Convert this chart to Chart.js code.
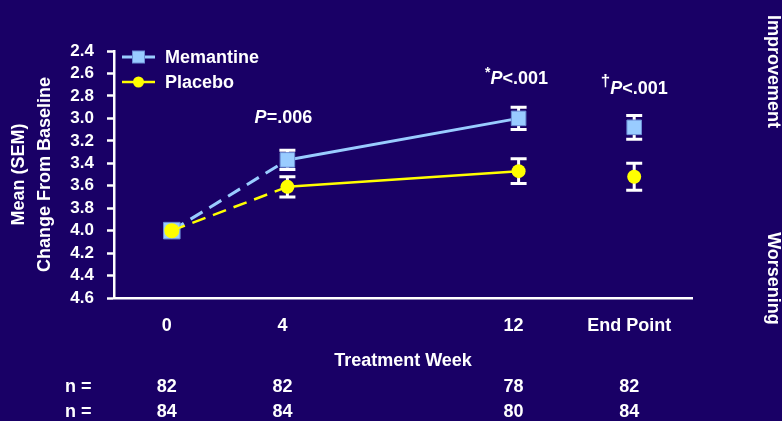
<!DOCTYPE html>
<html>
<head>
<meta charset="utf-8">
<title>Memantine vs Placebo – Mean Change From Baseline</title>
<script src="https://cdn.jsdelivr.net/npm/chart.js@4/dist/chart.umd.min.js"></script>
<style>
  html, body { margin: 0; padding: 0; background: #190066; }
  #wrap { position: relative; width: 782px; height: 421px; }
</style>
</head>
<body>
<div id="wrap"><canvas id="chart" width="782" height="421"></canvas></div>
<script>
// Visits on the treatment-week axis (End Point sits in its own slot after week 12)
const weeks = [0, 4, 12, 16];
const weekLabels = ['0', '4', '12', 'End Point'];

// Mean (SEM) per visit
const memantineMean = [4.0, 3.37, 3.0, 3.08];
const memantineSEM  = [0, 0.085, 0.10, 0.105];
const placeboMean   = [4.0, 3.61, 3.47, 3.52];
const placeboSEM    = [0, 0.09, 0.11, 0.12];

// Patients per visit
const memantineN = [82, 82, 78, 82];
const placeboN   = [84, 84, 80, 84];

// Y axis ticks
const yTicks = [2.4, 2.6, 2.8, 3.0, 3.2, 3.4, 3.6, 3.8, 4.0, 4.2, 4.4, 4.6];

// Between-group P values
const pWeeks = [4, 12, 16];
const pMarks = ['', '*', '\u2020'];
const pTexts = ['=.006', '<.001', '<.001'];

const FONT = "'Liberation Sans', Arial, Helvetica, sans-serif";
const BG = '#190066';
const WHITE = '#ffffff';
const BLUE = '#99ccff';
const YELLOW = '#ffff00';

const toPoints = means => weeks.map((w, i) => ({ x: w, y: means[i] }));

// First segment (baseline to week 4) is dashed; End Point is not joined
const segmentStyle = {
  borderDash: ctx => ctx.p0DataIndex === 0 ? [14, 8] : undefined,
  borderColor: ctx => ctx.p1DataIndex === weeks.length - 1 ? 'rgba(0,0,0,0)' : undefined
};

const background = {
  id: 'background',
  beforeDraw(chart) {
    const { ctx, width, height } = chart;
    ctx.save();
    ctx.fillStyle = BG;
    ctx.fillRect(0, 0, width, height);
    ctx.restore();
  }
};

// SEM whiskers with caps, behind the markers
const errorBars = {
  id: 'errorBars',
  beforeDatasetsDraw(chart) {
    const { ctx, scales: { x, y } } = chart;
    ctx.save();
    ctx.strokeStyle = WHITE;
    ctx.lineWidth = 3;
    chart.data.datasets.forEach(ds => {
      ds.data.forEach((p, i) => {
        const s = ds.sem[i];
        if (!s) return;
        const px = x.getPixelForValue(p.x);
        const top = y.getPixelForValue(p.y - s);
        const bot = y.getPixelForValue(p.y + s);
        const half = 8;
        ctx.beginPath();
        ctx.moveTo(px, top); ctx.lineTo(px, bot);
        ctx.moveTo(px - half, top); ctx.lineTo(px + half, top);
        ctx.moveTo(px - half, bot); ctx.lineTo(px + half, bot);
        ctx.stroke();
      });
    });
    ctx.restore();
  }
};

// Key with line + marker swatches inside the plot area
const seriesKey = {
  id: 'seriesKey',
  afterDraw(chart) {
    const { ctx, chartArea } = chart;
    const order = ['Memantine', 'Placebo'];
    ctx.save();
    order.forEach((name, i) => {
      const ds = chart.data.datasets.find(d => d.label === name);
      const cy = chartArea.top + 6 + i * 25;
      const x0 = chartArea.left + 8, x1 = chartArea.left + 41, cx = (x0 + x1) / 2;
      ctx.strokeStyle = ds.borderColor;
      ctx.lineWidth = ds.borderWidth;
      ctx.setLineDash([]);
      ctx.beginPath(); ctx.moveTo(x0, cy); ctx.lineTo(x1, cy); ctx.stroke();
      ctx.fillStyle = ds.pointBackgroundColor;
      if (ds.pointStyle === 'rect') {
        ctx.fillRect(cx - 6, cy - 6, 12, 12);
        ctx.strokeStyle = ds.pointBorderColor;
        ctx.lineWidth = 1;
        ctx.strokeRect(cx - 6, cy - 6, 12, 12);
      } else {
        ctx.beginPath(); ctx.arc(cx, cy, 5.5, 0, Math.PI * 2); ctx.fill();
      }
      ctx.fillStyle = WHITE;
      ctx.font = `bold 18px ${FONT}`;
      ctx.textAlign = 'left';
      ctx.textBaseline = 'middle';
      ctx.fillText(name, chartArea.left + 51, cy + 1);
    });
    ctx.restore();
  }
};

// P-value notes above each comparison
const pNotes = {
  id: 'pNotes',
  afterDraw(chart, args, opts) {
    const { ctx, scales: { x, y } } = chart;
    ctx.save();
    ctx.fillStyle = WHITE;
    ctx.textBaseline = 'alphabetic';
    ctx.textAlign = 'left';
    pWeeks.forEach((w, i) => {
      const base = y.getPixelForValue(opts.levels[i]);
      const markFont = pMarks[i] === '*' ? `bold 14px ${FONT}` : `bold 17px ${FONT}`;
      const markRise = pMarks[i] === '*' ? 6.3 : 8;
      ctx.font = markFont;
      const mw = pMarks[i] ? ctx.measureText(pMarks[i]).width : 0;
      ctx.font = `italic bold 18px ${FONT}`;
      const pw = ctx.measureText('P').width;
      ctx.font = `bold 18px ${FONT}`;
      const tw = ctx.measureText(pTexts[i]).width;
      let left = x.getPixelForValue(w) - (mw + pw + tw) / 2 + opts.shift[i];
      if (pMarks[i]) {
        ctx.font = markFont;
        ctx.fillText(pMarks[i], left, base - markRise);
        left += mw;
      }
      ctx.font = `italic bold 18px ${FONT}`;
      ctx.fillText('P', left, base);
      ctx.font = `bold 18px ${FONT}`;
      ctx.fillText(pTexts[i], left + pw, base);
    });
    ctx.restore();
  }
};

// Patient counts under the axis title
const countRows = {
  id: 'countRows',
  afterDraw(chart) {
    const { ctx, chartArea, scales: { x } } = chart;
    ctx.save();
    ctx.fillStyle = WHITE;
    ctx.font = `bold 18px ${FONT}`;
    ctx.textBaseline = 'middle';
    [memantineN, placeboN].forEach((row, r) => {
      const cy = chartArea.bottom + 89 + r * 25;
      ctx.textAlign = 'left';
      ctx.fillText('n =', 65, cy);
      ctx.textAlign = 'center';
      row.forEach((n, i) => ctx.fillText(String(n), x.getPixelForValue(weeks[i]) - 5, cy));
    });
    ctx.restore();
  }
};

// Direction labels down the right edge
const directionLabels = {
  id: 'directionLabels',
  afterDraw(chart) {
    const { ctx, width } = chart;
    ctx.save();
    ctx.fillStyle = WHITE;
    ctx.font = `bold 18px ${FONT}`;
    ctx.textAlign = 'center';
    ctx.textBaseline = 'alphabetic';
    [['Improvement', 71.5], ['Worsening', 278.5]].forEach(([t, cy]) => {
      ctx.save();
      ctx.translate(width - 14.5, cy);
      ctx.rotate(Math.PI / 2);
      ctx.fillText(t, 0, 0);
      ctx.restore();
    });
    ctx.restore();
  }
};

new Chart(document.getElementById('chart'), {
  type: 'line',
  data: {
    datasets: [
      {
        label: 'Placebo',
        data: toPoints(placeboMean),
        sem: placeboSEM,
        borderColor: YELLOW,
        borderWidth: 2.5,
        pointStyle: 'circle',
        pointRadius: ctx => ctx.dataIndex === 0 ? 7.5 : 7,
        pointBackgroundColor: YELLOW,
        pointBorderColor: YELLOW,
        pointBorderWidth: 0,
        tension: 0,
        segment: segmentStyle,
        order: 0,
        clip: false
      },
      {
        label: 'Memantine',
        data: toPoints(memantineMean),
        sem: memantineSEM,
        borderColor: BLUE,
        borderWidth: 3,
        pointStyle: 'rect',
        pointRadius: ctx => ctx.dataIndex === 0 ? 11.7 : 10.3,
        pointBackgroundColor: BLUE,
        pointBorderColor: '#6d8fd6',
        pointBorderWidth: 1,
        tension: 0,
        segment: segmentStyle,
        order: 1,
        clip: false
      }
    ]
  },
  options: {
    responsive: false,
    animation: false,
    devicePixelRatio: 1,
    events: [],
    layout: { padding: { top: 51, right: 90, bottom: 0, left: 0 } },
    plugins: {
      legend: { display: false },
      tooltip: { enabled: false },
      pNotes: { levels: [3.04, 2.69, 2.78], shift: [-4, -2, 0] }
    },
    scales: {
      x: {
        type: 'linear',
        min: -2,
        max: 18,
        afterBuildTicks: s => { s.ticks = weeks.map(v => ({ value: v })); },
        afterFit: s => { s.height = 123; },
        ticks: {
          color: WHITE,
          font: { family: FONT, size: 18, weight: 'bold' },
          padding: 17,
          labelOffset: -5,
          maxRotation: 0,
          autoSkip: false,
          callback: v => weekLabels[weeks.indexOf(v)]
        },
        grid: { display: false, drawTicks: false },
        border: { display: true, color: WHITE, width: 2.5 },
        title: {
          display: true,
          text: 'Treatment Week',
          color: WHITE,
          font: { family: FONT, size: 18, weight: 'bold' },
          padding: { top: 0, bottom: 49 }
        }
      },
      y: {
        type: 'linear',
        reverse: true,
        min: 2.4,
        max: 4.6,
        afterBuildTicks: s => { s.ticks = yTicks.map(v => ({ value: v })); },
        afterFit: s => { s.width = 114; },
        ticks: {
          color: WHITE,
          font: { family: FONT, size: 17, weight: 'bold' },
          padding: 13,
          autoSkip: false,
          callback: v => Number(v).toFixed(1)
        },
        grid: {
          display: true,
          drawOnChartArea: false,
          drawTicks: true,
          tickLength: 7,
          tickColor: WHITE,
          tickWidth: 2.5,
          color: WHITE
        },
        border: { display: true, color: WHITE, width: 2.5 },
        title: {
          display: true,
          text: ['Mean (SEM)', 'Change From Baseline'],
          color: WHITE,
          font: { family: FONT, size: 18, weight: 'bold', lineHeight: 1.45 },
          padding: { top: 6, bottom: 0 }
        }
      }
    }
  },
  plugins: [background, errorBars, seriesKey, pNotes, countRows, directionLabels]
});
</script>
</body>
</html>
